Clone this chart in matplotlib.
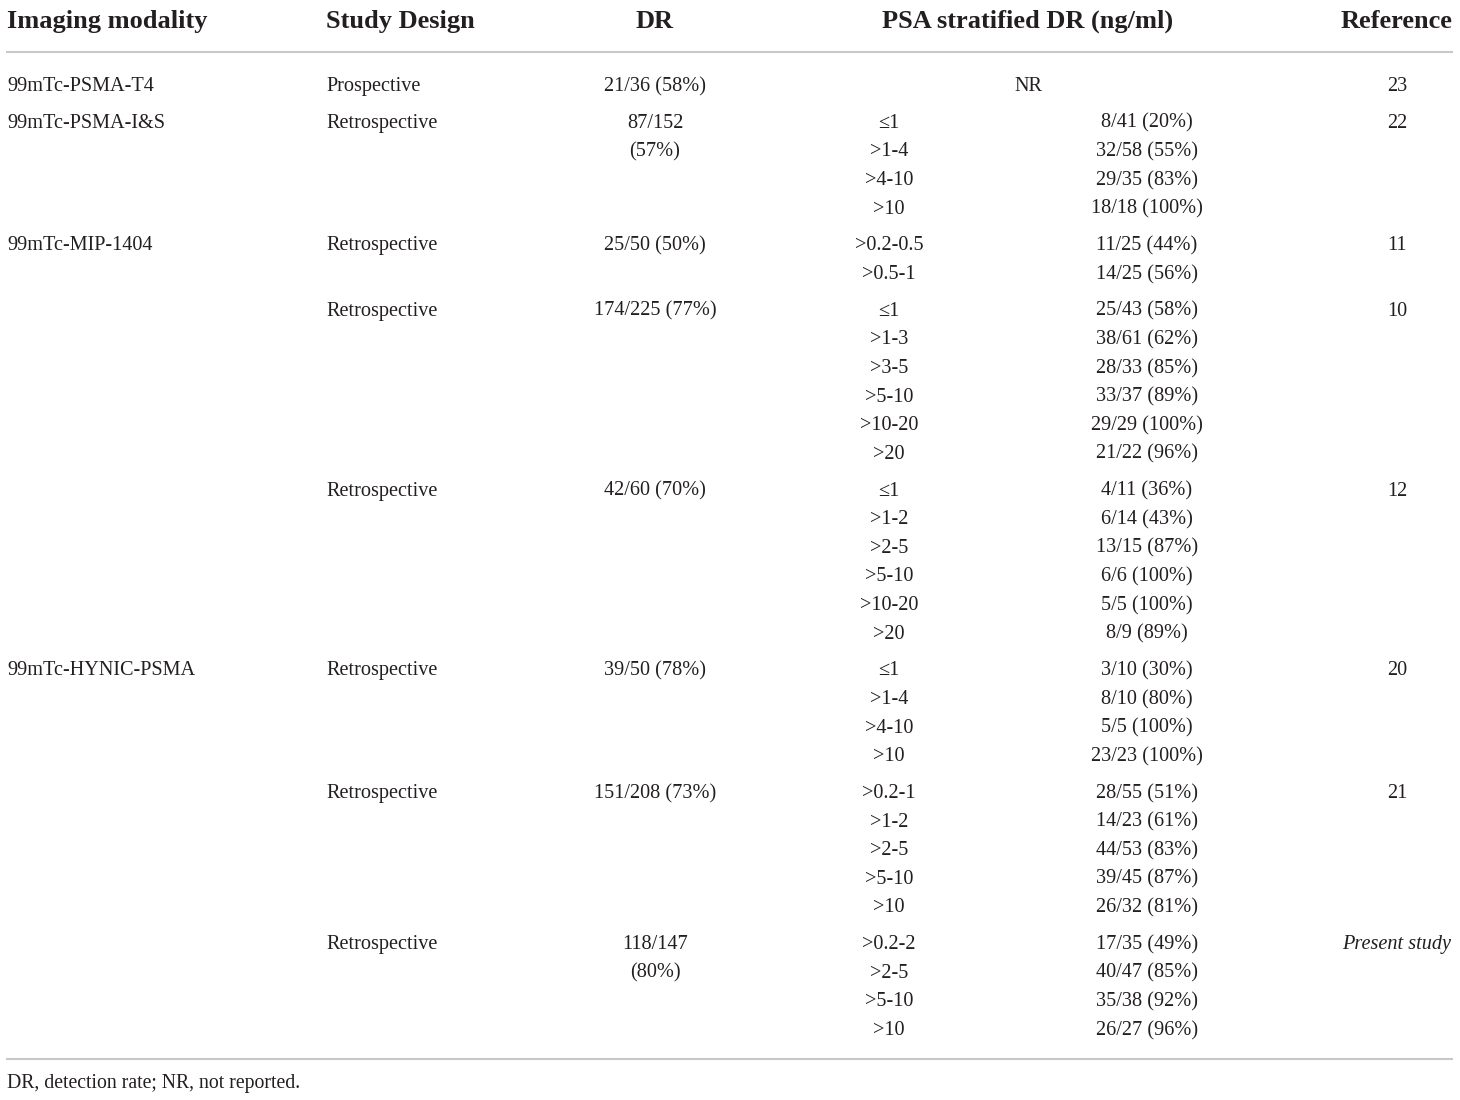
import matplotlib
matplotlib.use('Agg')
import matplotlib.pyplot as plt

# table content, one entry per study
modality = ['99mTc-PSMA-T4', '99mTc-PSMA-I&S', '99mTc-MIP-1404', '', '',
            '99mTc-HYNIC-PSMA', '', '']
design = ['Prospective', 'Retrospective', 'Retrospective', 'Retrospective',
          'Retrospective', 'Retrospective', 'Retrospective', 'Retrospective']
dr = ['21/36 (58%)', '87/152\n(57%)', '25/50 (50%)', '174/225 (77%)',
      '42/60 (70%)', '39/50 (78%)', '151/208 (73%)', '118/147\n(80%)']
psa_cut = [
    [],
    ['≤1', '>1-4', '>4-10', '>10'],
    ['>0.2-0.5', '>0.5-1'],
    ['≤1', '>1-3', '>3-5', '>5-10', '>10-20', '>20'],
    ['≤1', '>1-2', '>2-5', '>5-10', '>10-20', '>20'],
    ['≤1', '>1-4', '>4-10', '>10'],
    ['>0.2-1', '>1-2', '>2-5', '>5-10', '>10'],
    ['>0.2-2', '>2-5', '>5-10', '>10'],
]
psa_dr = [
    [],
    ['8/41 (20%)', '32/58 (55%)', '29/35 (83%)', '18/18 (100%)'],
    ['11/25 (44%)', '14/25 (56%)'],
    ['25/43 (58%)', '38/61 (62%)', '28/33 (85%)', '33/37 (89%)', '29/29 (100%)', '21/22 (96%)'],
    ['4/11 (36%)', '6/14 (43%)', '13/15 (87%)', '6/6 (100%)', '5/5 (100%)', '8/9 (89%)'],
    ['3/10 (30%)', '8/10 (80%)', '5/5 (100%)', '23/23 (100%)'],
    ['28/55 (51%)', '14/23 (61%)', '44/53 (83%)', '39/45 (87%)', '26/32 (81%)'],
    ['17/35 (49%)', '40/47 (85%)', '35/38 (92%)', '26/27 (96%)'],
]
refs = ['23', '22', '11', '10', '12', '20', '21', 'Present study']
headers = ['Imaging modality', 'Study Design', 'DR', 'PSA stratified DR (ng/ml)', 'Reference']
footnote = 'DR, detection rate; NR, not reported.'

FONT = ['Liberation Serif', 'DejaVu Serif']
INK = '#231f20'
RULE = '#c8c8c8'
BODY = 14.6
HEAD = 19


def plot():
    fig = plt.figure(figsize=(14.6, 11), dpi=100)
    ax = fig.add_axes([0, 0, 1, 1])
    ax.set_xlim(0, 1460)
    ax.set_ylim(1100, 0)
    ax.axis('off')

    def txt(x, y, s, ha='left', size=BODY, **kw):
        ax.text(x, y, s, ha=ha, va='baseline', fontsize=size, color=INK,
                family=FONT, **kw)

    # header
    hx = [(7, 'left'), (326, 'left'), (655, 'center'), (1028, 'center'), (1452, 'right')]
    for (x, ha), h in zip(hx, headers):
        txt(x, 28, h, ha=ha, size=HEAD, fontweight='bold')
    ax.plot([6, 1453], [52, 52], color=RULE, lw=1.5, solid_capstyle='butt')

    # body rows
    y = 91
    step, gap = 28.6, 36.8
    for i in range(len(design)):
        txt(7, y, modality[i])
        txt(326, y, design[i])
        for k, line in enumerate(dr[i].split('\n')):
            txt(655, y + k * step, line, ha='center')
        ref_style = 'italic' if refs[i] == 'Present study' else 'normal'
        txt(1397, y, refs[i], ha='center', fontstyle=ref_style)
        if not psa_cut[i]:
            txt(1028, y, 'NR', ha='center')
            n = 1
        else:
            for k, (c, d) in enumerate(zip(psa_cut[i], psa_dr[i])):
                txt(889, y + k * step, c, ha='center')
                txt(1147, y + k * step, d, ha='center')
            n = len(psa_cut[i])
        y += (n - 1) * step + gap

    ax.plot([6, 1453], [1059, 1059], color=RULE, lw=1.5, solid_capstyle='butt')
    txt(7, 1088, footnote, size=14.2)

    fig.savefig('out.png', dpi=100, facecolor='white')


if __name__ == '__main__':
    plot()
